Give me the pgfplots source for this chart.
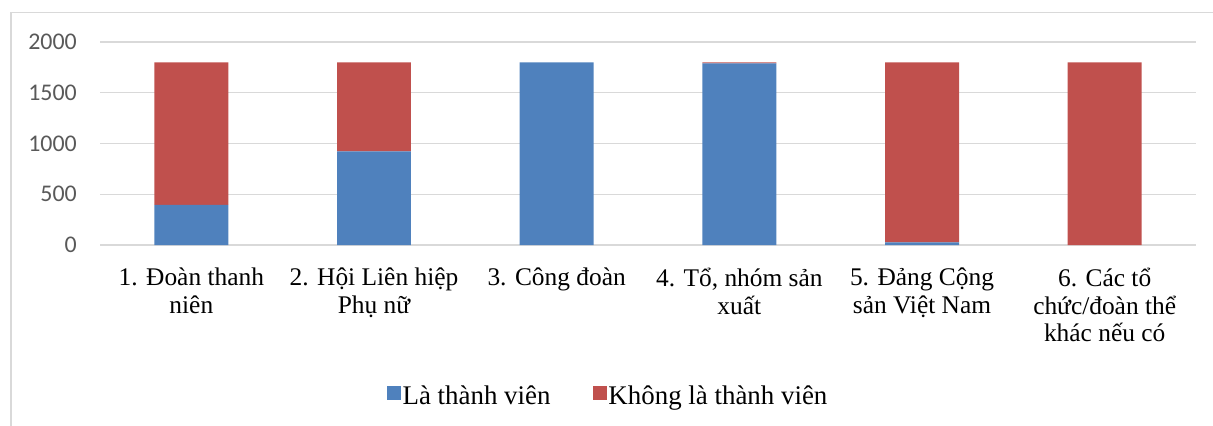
\documentclass[border=0pt]{standalone}
\usepackage{fontspec}
\setmainfont{Liberation Serif}
\setsansfont{Carlito}
\usepackage{pgfplots}
\pgfplotsset{compat=1.18}
\definecolor{xblue}{HTML}{4F81BD}
\definecolor{xred}{HTML}{C0504D}
\definecolor{gridc}{HTML}{D9D9D9}
\definecolor{tickc}{HTML}{595959}
\begin{document}
\begin{tikzpicture}[x=1bp,y=1bp]
\useasboundingbox (0,0) rectangle (1213,425);
\draw[gridc, line width=1.5bp] (10.75,-5) -- (10.75,412.25) -- (1220,412.25);
\begin{axis}[
  at={(100bp,180bp)}, anchor=south west,
  width=1096bp, height=203bp, scale only axis,
  ybar stacked, bar width=0.405,
  xmin=-0.5, xmax=5.5, ymin=0, ymax=2000,
  ytick={0,500,1000,1500,2000},
  ymajorgrids, grid style={gridc, line width=1.5bp},
  axis line style={draw=none},
  major tick length=0pt,
  clip=false,
  xtick={0,1,2,3,4,5},
  xticklabels={{1. Đoàn thanh\\niên},{2. Hội Liên hiệp\\Phụ nữ},{3. Công đoàn},{4. Tổ, nhóm sản\\xuất},{5. Đảng Cộng\\sản Việt Nam},{6. Các tổ\\chức/đoàn thể\\khác nếu có}},
  x tick label style={align=center, font=\rmfamily\fontsize{25.5}{27.5}\selectfont, inner sep=0pt, anchor=north, yshift=-23bp, text=black},
  y tick label style={font=\sffamily\fontsize{24}{28}\selectfont, text=tickc, inner sep=0pt, anchor=east, xshift=-23bp},
  /pgf/number format/assume math mode=true,
  /pgf/number format/set thousands separator={},
  legend columns=2,
  legend style={at={(0.4635,-0.744)}, anchor=center, draw=none, fill=none,
    font=\rmfamily\fontsize{27}{30}\selectfont, inner sep=0pt,
    /tikz/every even column/.append style={column sep=40bp},
    cells={anchor=west}},
  legend image code/.code={\fill[#1] (0bp,-4bp) rectangle (14bp,10bp);},
]
\addplot[fill=xblue, draw=none] coordinates {(0,395) (1,923) (2,1800) (3,1790) (4,25) (5,0)};
\addplot[fill=xred, draw=none] coordinates {(0,1405) (1,877) (2,0) (3,10) (4,1775) (5,1800)};
\legend{Là thành viên, Không là thành viên}
\end{axis}
\end{tikzpicture}
\end{document}
